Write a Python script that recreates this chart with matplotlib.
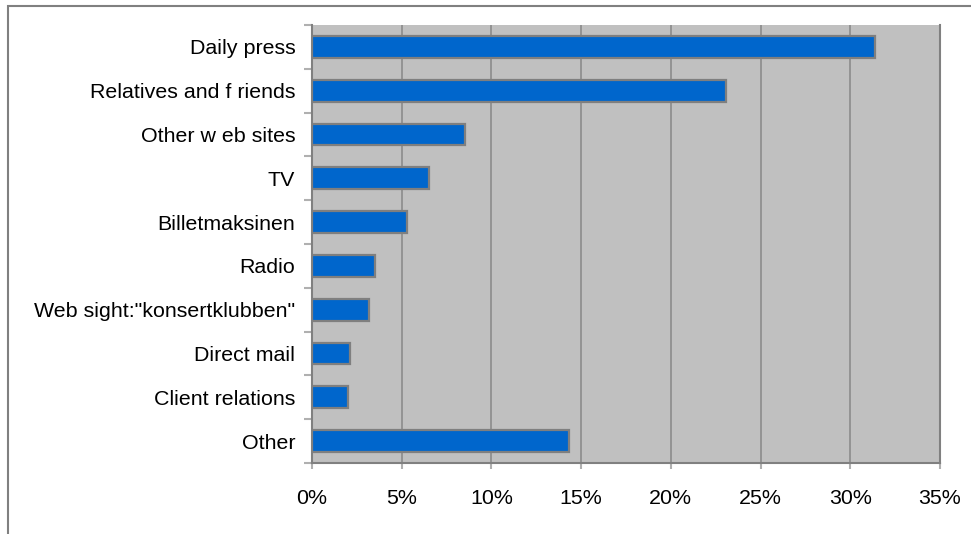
import matplotlib.pyplot as plt
from matplotlib.patches import Rectangle
from matplotlib.ticker import FuncFormatter, MultipleLocator

plt.rcParams['font.family'] = ['Liberation Sans', 'DejaVu Sans']

# sources of information, top to bottom
categories = ['Daily press', 'Relatives and f riends', 'Other w eb sites', 'TV',
              'Billetmaksinen', 'Radio', 'Web sight:"konsertklubben"',
              'Direct mail', 'Client relations', 'Other']
shares = [31.4, 23.1, 8.5, 6.5, 5.3, 3.5, 3.2, 2.1, 2.0, 14.3]

W, H = 971, 534
fig = plt.figure(figsize=(W / 100, H / 100), dpi=100, facecolor='white')

# outer chart frame, running off the right and bottom edges
fig.add_artist(Rectangle((8 / W, -0.05), 1.1, 1.05 - 6 / H, transform=fig.transFigure,
                         facecolor='none', edgecolor='#808080', linewidth=1.5))

left, right, top, bottom = 312, 940, 25, 463
ax = fig.add_axes([left / W, 1 - bottom / H, (right - left) / W, (bottom - top) / H])
ax.set_facecolor('#c0c0c0')

pos = list(range(len(categories)))
ax.barh(pos, shares, height=0.5, color='#0066cc', edgecolor='#7f7f7f', linewidth=1.6, zorder=3)

ax.set_xlim(0, 35)
ax.set_ylim(len(categories) - 0.5, -0.5)
ax.xaxis.set_major_locator(MultipleLocator(5))
ax.xaxis.set_major_formatter(FuncFormatter(lambda v, p: '%d%%' % v))
ax.grid(axis='x', color='#8c8c8c', linewidth=1.2, zorder=1)

# category labels centred between boundary ticks
ax.set_yticks([p - 0.5 for p in pos] + [len(categories) - 0.5])
ax.set_yticklabels([])
ax.set_yticks(pos, minor=True)
ax.set_yticklabels(categories, minor=True)
ax.tick_params(axis='y', which='major', length=6, width=1.5, color='#b0b0b0', direction='out')
ax.tick_params(axis='y', which='minor', length=0, pad=12, labelsize=15.4)
ax.tick_params(axis='x', length=4, width=1.5, color='#b0b0b0', labelsize=15.4, pad=15)

for side in ['left', 'bottom', 'right']:
    ax.spines[side].set_color('#808080')
    ax.spines[side].set_linewidth(1.5)
ax.spines['top'].set_visible(False)

fig.savefig('out.png', dpi=100)
